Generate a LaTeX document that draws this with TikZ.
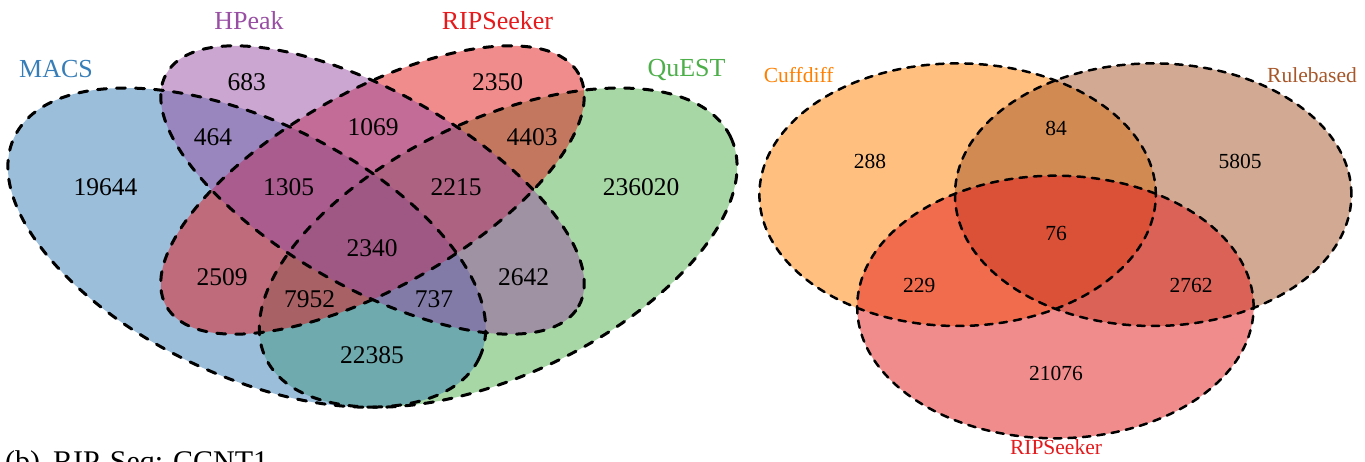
\documentclass[tikz,border=0pt]{standalone}
\usepackage{fontspec}
\setmainfont{Liberation Serif}
\definecolor{setblue}{HTML}{377EB8}
\definecolor{setpurple}{HTML}{984EA3}
\definecolor{setred}{HTML}{E41A1C}
\definecolor{setgreen}{HTML}{4DAF4A}
\definecolor{setorange}{HTML}{FF7F00}
\definecolor{setbrown}{HTML}{A65628}
\begin{document}
\begin{tikzpicture}[x=1pt,y=1pt,
  vfill/.style={fill opacity=0.5, draw=none},
  outlineL/.style={draw=black, line width=3pt, dash pattern=on 9pt off 10pt, line cap=round},
  outlineR/.style={draw=black, line width=2.5pt, dash pattern=on 7.5pt off 7pt, line cap=round},
  numL/.style={inner sep=0pt, font=\fontsize{25.5}{30}\selectfont},
  numR/.style={inner sep=0pt, font=\fontsize{21.5}{25}\selectfont},
  labL/.style={inner sep=0pt, anchor=base, font=\fontsize{26}{30}\selectfont},
  labR/.style={inner sep=0pt, anchor=base, font=\fontsize{21.5}{25}\selectfont},
]
\useasboundingbox (0,0) rectangle (1365,462);

% ---------- left: four-set diagram ----------
\coordinate (cQ) at (498.2,214.4);
\coordinate (cM) at (246.8,214.4);
\coordinate (cI) at (372.5,272);

\fill[setgreen, vfill, rotate around={25.4:(cQ)}] (cQ) ellipse (257.4 and 127.6);
\fill[setblue, vfill, rotate around={-25.4:(cM)}] (cM) ellipse (257.4 and 127.6);
\fill[setred, vfill, rotate around={29.4:(cI)}] (cI) ellipse (236.7 and 98);
\fill[setpurple, vfill, rotate around={-29.4:(cI)}] (cI) ellipse (236.7 and 98);

\draw[outlineL, rotate around={25.4:(cQ)}] (cQ) ellipse (257.4 and 127.6);
\draw[outlineL, rotate around={-25.4:(cM)}] (cM) ellipse (257.4 and 127.6);
\draw[outlineL, rotate around={29.4:(cI)}] (cI) ellipse (236.7 and 98);
\draw[outlineL, rotate around={-29.4:(cI)}] (cI) ellipse (236.7 and 98);

\node[labL, text=setblue]   (lMACS) at (56,384.7) {MACS};
\node[labL, text=setpurple] (lHPeak) at (249,432.7) {HPeak};
\node[labL, text=setred]    (lRIPa) at (497.5,432.7) {RIPSeeker};
\node[labL, text=setgreen]  (lQuEST) at (686.5,385) {QuEST};

\node[numL] (n683)    at (246.7,380.3) {683};
\node[numL] (n2350)   at (497.5,380.3) {2350};
\node[numL] (n464)    at (213,325.3) {464};
\node[numL] (n1069)   at (373,335.3) {1069};
\node[numL] (n4403)   at (532,325.3) {4403};
\node[numL] (n19644)  at (105.5,275.3) {19644};
\node[numL] (n1305)   at (288.5,275.3) {1305};
\node[numL] (n2215)   at (456,275.3) {2215};
\node[numL] (n236020) at (641,275.3) {236020};
\node[numL] (n2340)   at (372,213.7) {2340};
\node[numL] (n2509)   at (222,185.3) {2509};
\node[numL] (n7952)   at (309.5,162.5) {7952};
\node[numL] (n737)    at (434,162.5) {737};
\node[numL] (n2642)   at (523.5,185.3) {2642};
\node[numL] (n22385)  at (372,107) {22385};

% ---------- right: three-set diagram ----------
\coordinate (cC) at (957.6,267.3);
\coordinate (cR) at (1153.2,267.3);
\coordinate (cS) at (1055.4,155);

\fill[setorange, vfill] (cC) ellipse (198.2 and 131.3);
\fill[setbrown, vfill] (cR) ellipse (198.2 and 131.3);
\fill[setred, vfill] (cS) ellipse (198.2 and 131.3);

\draw[outlineR] (cC) ellipse (198.2 and 131.3);
\draw[outlineR] (cR) ellipse (198.2 and 131.3);
\draw[outlineR] (cS) ellipse (198.2 and 131.3);

\node[labR, text=setorange] (lCuff) at (798.6,379.3) {Cuffdiff};
\node[labR, text=setbrown]  (lRule) at (1312,379.3) {Rulebased};
\node[labR, text=setred]    (lRIPb) at (1056,7.7) {RIPSeeker};

\node[numR] (n288)   at (870,300.3) {288};
\node[numR] (n84)    at (1056,333.7) {84};
\node[numR] (n5805)  at (1240,300.3) {5805};
\node[numR] (n76)    at (1056,228.7) {76};
\node[numR] (n229)   at (919.2,176.3) {229};
\node[numR] (n2762)  at (1191.2,176.3) {2762};
\node[numR] (n21076) at (1056,88.7) {21076};

% ---------- cut-off caption ----------
\node[anchor=base west, inner sep=0pt, font=\fontsize{30}{36}\selectfont] (caption) at (5,-9.6) {(b)\hspace{13pt}RIP-Seq: CCNT1};
\end{tikzpicture}
\end{document}
